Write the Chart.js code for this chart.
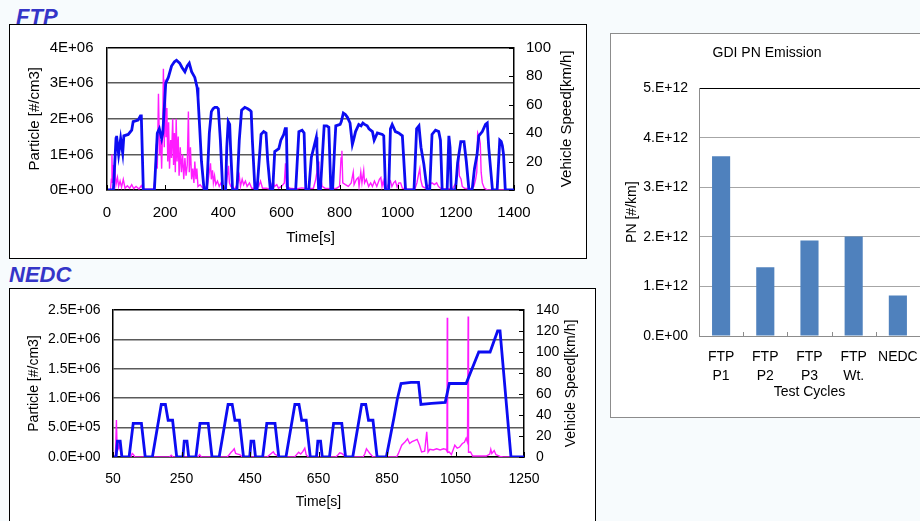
<!DOCTYPE html>
<html><head><meta charset="utf-8">
<script src="https://cdn.jsdelivr.net/npm/chart.js@4.4.1/dist/chart.umd.min.js"></script>
<style>
html,body{margin:0;padding:0;width:920px;height:521px;overflow:hidden;background:#f7fbfd;font-family:"Liberation Sans",Arial,sans-serif;}
.frame{position:absolute;background:#fff;box-sizing:border-box;}
.ttl{position:absolute;font:italic bold 22px "Liberation Sans",Arial,sans-serif;color:#3535c8;line-height:22px;white-space:nowrap;}
canvas{position:absolute;}
</style></head><body>
<div class="ttl" style="left:16px;top:6px">FTP</div>
<div class="frame" style="left:9px;top:24px;width:578px;height:235px;border:1px solid #000"></div>
<div class="ttl" style="left:9px;top:264px">NEDC</div>
<div class="frame" style="left:9px;top:288px;width:587px;height:260px;border:1px solid #000"></div>
<div class="frame" style="left:610px;top:33px;width:340px;height:385px;border:1px solid #8c8c8c"></div>
<canvas id="ftp" width="576" height="233" style="left:10px;top:25px"></canvas>
<canvas id="nedc" width="585" height="232" style="left:10px;top:289px"></canvas>
<canvas id="bar" width="320" height="383" style="left:611px;top:34px"></canvas>
<script>
// ---------- FTP ----------
const ftpTimeTicks = [0,200,400,600,800,1000,1200,1400];
const ftpParticleTicks = [0,1e6,2e6,3e6,4e6];
const ftpParticleLabels = ['0E+00','1E+06','2E+06','3E+06','4E+06'];
const ftpSpeedTicks = [0,20,40,60,80,100];
const ftpSpeed = [[0,0],[22,0],[31,36],[33,38],[40,25],[47,36],[54,26],[58,38],[73,39],[85,42],[90,48],[107,49],[115,52],[118,52],[125,0],[163,0],[173,40],[180,43],[188,36],[192,40],[202,75],[211,79],[222,87],[232,90],[239,91],[250,89],[258,86],[268,83],[276,87],[283,89],[291,83],[302,79],[310,72],[313,65],[319,43],[325,20],[334,0],[343,0],[352,40],[359,55],[365,57],[371,58],[378,58],[383,57],[390,35],[398,0],[408,0],[412,30],[417,48],[422,46],[425,30],[432,0],[447,0],[455,35],[463,56],[474,58],[484,57],[492,56],[496,55],[500,35],[509,0],[516,0],[530,39],[539,41],[547,40],[553,20],[562,0],[570,0],[577,27],[591,29],[598,35],[608,39],[613,43],[617,43],[621,0],[649,0],[660,41],[671,42],[678,40],[684,0],[694,0],[703,23],[714,32],[720,37],[722,30],[728,0],[734,0],[747,45],[756,45],[763,44],[770,0],[776,0],[783,30],[787,45],[802,46],[806,48],[813,54],[820,53],[827,51],[836,47],[844,32],[848,35],[855,41],[866,46],[874,45],[880,47],[886,46],[895,45],[901,43],[913,41],[919,35],[930,40],[947,39],[952,38],[958,0],[969,0],[975,43],[981,46],[992,41],[1003,40],[1016,38],[1027,0],[1056,0],[1065,43],[1073,45],[1080,30],[1090,18],[1101,0],[1110,0],[1118,39],[1130,42],[1141,41],[1147,35],[1153,0],[1170,0],[1176,38],[1180,30],[1184,0],[1199,0],[1206,19],[1217,34],[1228,34],[1236,20],[1245,0],[1256,0],[1264,15],[1273,25],[1279,38],[1291,41],[1302,46],[1308,47],[1313,30],[1326,0],[1342,0],[1351,35],[1356,34],[1360,31],[1364,25],[1370,0],[1400,0]];
const ftpParticle = [[0,0],[12,0],[15,3e5],[17,1.0e6],[19,2e5],[22,7e5],[24,3e5],[28,5e5],[31,1.5e5],[36,3.5e5],[40,1e5],[45,2.5e5],[50,8e4],[56,3e5],[62,5e4],[70,1.2e5],[78,5e4],[85,1.5e5],[92,4e4],[100,1e5],[110,3e4],[118,1.2e5],[124,2e4],[160,2e4],[165,3e5],[170,1.3e6],[173,6e5],[177,2.7e6],[181,1.0e6],[185,1.4e6],[188,6e5],[192,2.0e6],[194,3.4e6],[197,1.2e6],[200,3.1e6],[203,1.5e6],[206,2.3e6],[209,8e5],[212,1.9e6],[215,6e5],[219,1.4e6],[222,9e5],[226,2.0e6],[229,7e5],[232,1.6e6],[235,5e5],[238,2.0e6],[241,8e5],[245,1.5e6],[248,4e5],[252,1.2e6],[256,5e5],[260,1.0e6],[264,3e5],[268,9e5],[272,4e5],[276,7e5],[280,2.2e6],[283,5e5],[287,1.2e6],[291,3e5],[295,6e5],[299,2e5],[302,8e5],[306,3e5],[309,6e5],[313,1e5],[320,1.5e5],[330,5e4],[345,1e5],[352,5e5],[356,7.5e5],[359,3e5],[363,5.5e5],[366,2e5],[370,4e5],[374,1.5e5],[380,2.5e5],[386,1e5],[392,2e5],[398,5e4],[410,1e5],[414,4e5],[418,6.8e5],[421,2e5],[426,1e5],[440,3e4],[450,2e5],[455,4e5],[459,1e5],[465,3e5],[470,1.5e5],[476,2.5e5],[482,1e5],[490,2e5],[498,5e4],[510,5e4],[516,2e5],[522,1e5],[528,2.5e5],[535,5e4],[548,5e4],[560,3e4],[572,2.5e5],[576,1e5],[584,1.5e5],[590,5e4],[600,1e5],[610,2e5],[614,7.5e5],[617,1e5],[630,5e4],[650,3e4],[670,6e4],[690,4e4],[710,5e4],[718,3e5],[722,5e5],[726,8e5],[729,2e5],[735,3.5e5],[740,1e5],[750,5e4],[770,4e4],[790,5e4],[800,1e5],[805,9e5],[808,1.1e6],[811,2e5],[820,1.5e5],[830,1e5],[840,2e5],[847,5e5],[850,1.5e5],[858,3e5],[864,3.5e5],[867,1e5],[873,5e5],[877,2e5],[883,5.5e5],[886,2e5],[892,3e5],[900,1e5],[907,2e5],[913,1e5],[920,2.5e5],[928,1e5],[937,3e5],[942,3.5e5],[946,1e5],[950,2.5e5],[955,5e4],[962,5e4],[970,2e5],[975,2.5e5],[980,1e5],[986,2e5],[992,2.5e5],[998,8e4],[1004,2e5],[1010,2e5],[1016,5e4],[1030,3e4],[1050,2e4],[1060,5e4],[1066,2e5],[1072,4.5e5],[1076,6e5],[1079,3e5],[1085,1e5],[1095,5e4],[1110,1.5e5],[1118,2e5],[1126,1.5e5],[1134,2e5],[1140,1e5],[1150,3e4],[1170,3e4],[1190,5e4],[1200,2e5],[1205,6e5],[1209,1.0e6],[1212,4e5],[1218,3e5],[1222,1e5],[1230,5e4],[1250,3e4],[1262,1e5],[1268,3e5],[1272,5e5],[1275,1.6e6],[1280,1.5e6],[1284,1.3e6],[1287,5e5],[1291,2e5],[1298,5e4],[1310,0],[1400,0]];

// ---------- NEDC ----------
const nedcTimeTicks = [50,250,450,650,850,1050,1250];
const nedcParticleTicks = [0,5e5,1e6,1.5e6,2e6,2.5e6];
const nedcParticleLabels = ['0.0E+00','5.0E+05','1.0E+06','1.5E+06','2.0E+06','2.5E+06'];
const nedcSpeedTicks = [0,20,40,60,80,100,120,140];
const nedcSpeed = [[50,0],[59,0],[63,15],[71,15],[76,0],[97,0],[109,32],[133,32],[144,0],[165,0],[191,50],[203,50],[211,35],[224,35],[236,0],[254,0],[258,15],[266,15],[271,0],[292,0],[304,32],[328,32],[339,0],[360,0],[386,50],[398,50],[406,35],[419,35],[431,0],[449,0],[453,15],[461,15],[466,0],[487,0],[499,32],[523,32],[534,0],[555,0],[581,50],[593,50],[601,35],[614,35],[626,0],[644,0],[648,15],[656,15],[661,0],[682,0],[694,32],[718,32],[729,0],[750,0],[776,50],[788,50],[796,35],[809,35],[821,0],[848,0],[860,20],[870,37],[880,55],[891,70],[920,71],[942,71],[949,50],[980,51],[1020,52],[1032,70],[1081,70],[1118,100],[1151,100],[1173,120],[1180,120],[1212,0],[1250,0]];
const nedcParticle = [[50,0],[57,0],[60,6.3e5],[62,1.5e5],[64,2.5e5],[67,1.5e5],[70,2e5],[73,5e4],[78,0],[102,0],[106,6e4],[110,4e4],[114,0],[215,0],[220,3e4],[225,0],[298,0],[303,4e4],[308,0],[383,0],[388,3e4],[395,8e4],[400,1.1e5],[404,1.4e5],[408,6e4],[414,5e4],[420,4e4],[428,0],[500,0],[506,3e4],[512,6e4],[518,9e4],[522,5e4],[528,3e4],[533,0],[580,0],[586,4e4],[592,8e4],[598,5e4],[604,9e4],[610,1.5e5],[614,4e4],[620,0],[700,0],[706,3e4],[712,7e4],[718,6e4],[724,3e4],[728,0],[780,0],[785,5e4],[790,1.4e5],[795,1e5],[800,6e4],[806,2e4],[810,0],[878,0],[883,5.7e4],[893,2e5],[903,2.6e5],[910,3.1e5],[916,2.3e5],[923,2.6e5],[930,2.8e5],[938,3e5],[945,2e5],[951,8.5e4],[960,1e5],[966,4.3e5],[970,8.5e4],[975,1.3e5],[985,1.2e5],[995,1.4e5],[1005,1.2e5],[1015,1.4e5],[1022,1.3e5],[1025,1.0e5],[1026,2.37e6],[1027,8e4],[1032,8.5e4],[1038,4e4],[1048,2e5],[1055,1.5e5],[1062,1.7e5],[1070,2.3e5],[1076,2.5e5],[1081,3.2e5],[1085,2.5e5],[1087,2.39e6],[1088,8e4],[1094,8.5e4],[1100,1.7e4],[1140,1.7e4],[1150,5e4],[1153,1.3e5],[1156,6e4],[1163,1.1e5],[1168,4e4],[1180,1e4],[1189,0],[1250,0]];

// ---------- Bar ----------
const barCategories = [['FTP','P1'],['FTP','P2'],['FTP','P3'],['FTP','Wt.'],['NEDC']];
const barValues = [3.63e12,1.39e12,1.93e12,2.01e12,0.82e12];
const barTicks = [0,1e12,2e12,3e12,4e12,5e12];
const barTickLabels = ['0.E+00','1.E+12','2.E+12','3.E+12','4.E+12','5.E+12'];

const FONT = '"Liberation Sans", Arial, sans-serif';
Chart.defaults.font.family = FONT;
Chart.defaults.color = '#000';
Chart.defaults.animation = false;

const decor = {
  id: 'decor',
  afterDraw(chart, args, o) {
    const ctx = chart.ctx, a = chart.chartArea;
    ctx.save();
    ctx.strokeStyle = o.tickColor || '#000';
    ctx.lineWidth = 1;
    if (o.rightScale) {
      const s = chart.scales[o.rightScale];
      s.ticks.forEach(t => {
        const y = Math.round(s.getPixelForValue(t.value)) + 0.5;
        ctx.beginPath(); ctx.moveTo(a.right, y); ctx.lineTo(a.right - o.tickLen, y); ctx.stroke();
      });
    }
    if (o.bottomTicks) {
      const s = chart.scales.x;
      s.ticks.forEach(t => {
        const x = Math.round(s.getPixelForValue(t.value)) + 0.5;
        ctx.beginPath(); ctx.moveTo(x, a.bottom); ctx.lineTo(x, a.bottom - o.tickLen); ctx.stroke();
      });
    }
    if (o.categoryTicks) {
      const s = chart.scales.x;
      for (let i = 1; i <= o.categoryTicks; i++) {
        const x = Math.round((s.getPixelForValue(i - 1) + s.getPixelForValue(i)) / 2) + 0.5;
        ctx.beginPath(); ctx.moveTo(x, a.bottom); ctx.lineTo(x, a.bottom - o.tickLen); ctx.stroke();
      }
    }
    if (o.rightTitle) {
      ctx.fillStyle = '#000';
      ctx.font = o.font;
      ctx.textAlign = 'center';
      ctx.textBaseline = 'middle';
      ctx.translate(o.rightTitleX, (a.top + a.bottom) / 2);
      ctx.rotate(-Math.PI / 2);
      ctx.fillText(o.rightTitle, 0, 0);
    }
    ctx.restore();
  }
};

const pts = arr => arr.map(p => ({x: p[0], y: p[1]}));

function dualChart(id, cfg) {
  return new Chart(document.getElementById(id), {
    type: 'line',
    data: {
      datasets: [
        {data: pts(cfg.speed), yAxisID: 'y1', borderColor: '#0c0cf2', borderWidth: 2.8, pointRadius: 0, tension: 0, order: 1},
        {data: pts(cfg.particle), yAxisID: 'y', borderColor: '#ff1cff', borderWidth: 1.4, pointRadius: 0, tension: 0, order: 2}
      ]
    },
    options: {
      responsive: false,
      animation: false,
      layout: {padding: {top: cfg.padTop, left: 0, right: 0, bottom: 0}},
      plugins: {
        legend: {display: false}, tooltip: {enabled: false},
        decor: {rightScale: 'y1', bottomTicks: true, tickLen: 5, rightTitle: 'Vehicle Speed[km/h]', rightTitleX: cfg.rightTitleX, font: cfg.fs + 'px ' + FONT}
      },
      scales: {
        x: {
          type: 'linear', min: cfg.xTicks[0], max: cfg.xTicks[cfg.xTicks.length - 1],
          afterBuildTicks: s => { s.ticks = cfg.xTicks.map(v => ({value: v})); },
          afterFit: s => { s.height = cfg.xH; },
          ticks: {autoSkip: false, maxRotation: 0, padding: cfg.xTickPad, font: {size: cfg.fs}, color: '#000', callback: (v, i) => String(cfg.xTicks[i])},
          grid: {display: false, drawTicks: false},
          border: {display: true, color: '#000', width: 1.5},
          title: {display: true, text: 'Time[s]', font: {size: cfg.fs}, color: '#000', padding: {top: 0, bottom: cfg.xTitlePad}}
        },
        y: {
          position: 'left', min: 0, max: cfg.pTicks[cfg.pTicks.length - 1],
          afterBuildTicks: s => { s.ticks = cfg.pTicks.map(v => ({value: v})); },
          afterFit: s => { s.width = cfg.yW; },
          ticks: {padding: cfg.yTickPad, font: {size: cfg.fs}, color: '#000', callback: (v, i) => cfg.pLabels[i]},
          grid: {drawTicks: false, lineWidth: 1.5, color: c => (c.index === cfg.pTicks.length - 1 ? '#000' : '#5a5a5a')},
          border: {display: true, color: '#000', width: 1.5},
          title: {display: true, text: 'Particle [#/cm3]', font: {size: cfg.fs}, color: '#000', padding: {top: cfg.yTitlePad, bottom: 0}}
        },
        y1: {
          position: 'right', min: 0, max: cfg.sTicks[cfg.sTicks.length - 1],
          afterBuildTicks: s => { s.ticks = cfg.sTicks.map(v => ({value: v})); },
          afterFit: s => { s.width = cfg.y1W; },
          ticks: {padding: cfg.y1TickPad, font: {size: cfg.fs}, color: '#000', callback: (v, i) => String(cfg.sTicks[i])},
          grid: {display: false, drawTicks: false},
          border: {display: true, color: '#000', width: 1.5}
        }
      }
    },
    plugins: [decor]
  });
}

dualChart('ftp', {
  speed: ftpSpeed, particle: ftpParticle, xTicks: ftpTimeTicks, pTicks: ftpParticleTicks, pLabels: ftpParticleLabels, sTicks: ftpSpeedTicks,
  fs: 15, padTop: 22, xH: 68, yW: 97, y1W: 72, xTickPad: 14, xTitlePad: 11, yTickPad: 13.5, yTitlePad: 16, y1TickPad: 12, rightTitleX: 557
});
dualChart('nedc', {
  speed: nedcSpeed, particle: nedcParticle, xTicks: nedcTimeTicks, pTicks: nedcParticleTicks, pLabels: nedcParticleLabels, sTicks: nedcSpeedTicks,
  fs: 14, padTop: 21, xH: 64, yW: 103, y1W: 71, xTickPad: 14, xTitlePad: 10, yTickPad: 12.5, yTitlePad: 16, y1TickPad: 12, rightTitleX: 561
});

new Chart(document.getElementById('bar'), {
  type: 'bar',
  data: {labels: barCategories, datasets: [{data: barValues, backgroundColor: '#4f81bd', barPercentage: 0.41, categoryPercentage: 1.0}]},
  options: {
    responsive: false,
    animation: false,
    layout: {padding: {top: 0, right: 8, left: 0, bottom: 0}},
    plugins: {
      legend: {display: false}, tooltip: {enabled: false},
      title: {display: true, text: 'GDI PN Emission', font: {size: 14, weight: 'normal'}, color: '#000', padding: {top: 11, bottom: 26.5}},
      decor: {categoryTicks: 5, tickLen: 4, tickColor: '#8c8c8c'}
    },
    scales: {
      x: {
        afterFit: s => { s.height = 81; },
        ticks: {autoSkip: false, maxRotation: 0, padding: 12.5, font: {size: 14, lineHeight: 1.3}, color: '#000'},
        grid: {display: false, drawTicks: false},
        border: {display: true, color: '#8c8c8c'},
        title: {display: true, text: 'Test Cycles', font: {size: 14}, color: '#000', padding: {top: 0, bottom: 16.5}}
      },
      y: {
        min: 0, max: 5e12,
        afterBuildTicks: s => { s.ticks = barTicks.map(v => ({value: v})); },
        afterFit: s => { s.width = 88; },
        ticks: {padding: 11, font: {size: 14}, color: '#000', callback: (v, i) => barTickLabels[i]},
        grid: {drawTicks: false, color: c => (c.index === barTicks.length - 1 ? '#000' : '#a6a6a6')},
        border: {display: true, color: '#8c8c8c'},
        title: {display: true, text: 'PN [#/km]', font: {size: 14}, color: '#000', padding: {top: 12.5, bottom: 0}}
      }
    }
  },
  plugins: [decor]
});
</script>
</body></html>
